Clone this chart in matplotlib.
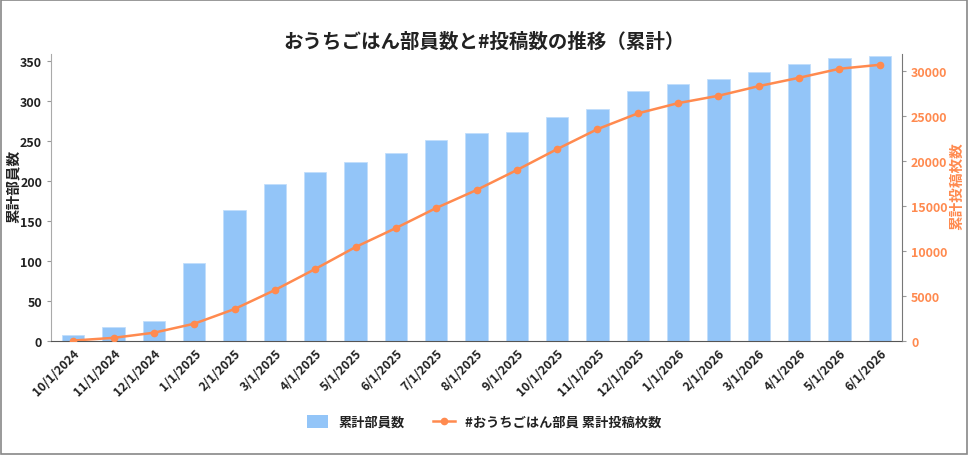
import matplotlib
matplotlib.use("Agg")
import matplotlib.pyplot as plt
from matplotlib.lines import Line2D
from matplotlib.patches import Patch

plt.rcParams['font.family'] = ['Noto Sans CJK JP', 'DejaVu Sans']

months = ["10/1/2024", "11/1/2024", "12/1/2024", "1/1/2025", "2/1/2025", "3/1/2025",
          "4/1/2025", "5/1/2025", "6/1/2025", "7/1/2025", "8/1/2025", "9/1/2025",
          "10/1/2025", "11/1/2025", "12/1/2025", "1/1/2026", "2/1/2026", "3/1/2026",
          "4/1/2026", "5/1/2026", "6/1/2026"]
members = [8, 18, 25, 97, 164, 196, 212, 224, 235, 252, 260, 262,
           280, 290, 313, 321, 328, 336, 346, 354, 357]
posts = [50, 350, 920, 1920, 3550, 5660, 8000, 10440, 12550, 14780, 16780, 19000,
         21330, 23550, 25300, 26440, 27260, 28330, 29260, 30260, 30700]

BLUE = "#93C5F8"
ORANGE = "#FF8A4F"
DARK = "#222222"

fig = plt.figure(figsize=(9.68, 4.56), dpi=100)
ax = fig.add_axes([51 / 968, 1 - 342 / 456, (902 - 51) / 968, (342 - 55) / 456])
x = list(range(len(months)))
ax.bar(x, members, width=0.55, color=BLUE, edgecolor="#C2DEFB", linewidth=0.6, zorder=2)
ax.set_xlim(-0.55, len(months) - 0.45)
ax.set_ylim(0, 359)
ax.set_yticks(range(0, 351, 50))
ax.set_xticks(x)
ax.set_xticklabels(months, rotation=45, ha="right", rotation_mode="anchor",
                   fontsize=8.8, fontweight="bold", color=DARK)
ax.tick_params(axis="y", labelsize=9, colors=DARK, length=3, color="#999999")
ax.tick_params(axis="x", length=0, pad=4)
for t in ax.get_yticklabels():
    t.set_fontweight("bold")
ax.spines["top"].set_visible(False)
ax.spines["left"].set_color("#AAAAAA")
ax.spines["bottom"].set_color("#555555")
ax.spines["right"].set_visible(False)

ax2 = ax.twinx()
ax2.plot(x, posts, color=ORANGE, linewidth=1.8, marker="o", markersize=4.5, zorder=3)
ax2.set_ylim(0, 31900)
ax2.set_yticks(range(0, 30001, 5000))
ax2.tick_params(axis="y", labelsize=9, colors=ORANGE, length=3, color="#999999")
for t in ax2.get_yticklabels():
    t.set_fontweight("bold")
ax2.spines["top"].set_visible(False)
ax2.spines["left"].set_visible(False)
ax2.spines["bottom"].set_visible(False)
ax2.spines["right"].set_color("#777777")

# axis titles placed in figure coords so they don't get clipped
fig.text(13 / 968, 1 - 186 / 456, "累計部員数", rotation=90, ha="center", va="center",
         fontsize=10.5, fontweight="bold", color=DARK)
fig.text(956 / 968, 1 - 186 / 456, "累計投稿枚数", rotation=90, ha="center", va="center",
         fontsize=10.5, fontweight="bold", color=ORANGE)

fig.suptitle("おうちごはん部員数と#投稿数の推移（累計）", fontsize=14, fontweight="bold",
             color=DARK, y=1 - 42 / 456, va="center")

handles = [Patch(facecolor=BLUE, edgecolor="none"),
           Line2D([], [], color=ORANGE, marker="o", markersize=4.5, linewidth=1.8)]
leg = fig.legend(handles, ["累計部員数", "#おうちごはん部員 累計投稿枚数"], loc="center",
                 bbox_to_anchor=(0.5, 1 - 423 / 456), ncol=2, frameon=False,
                 prop={"size": 9.5, "weight": "bold"}, handlelength=1.6, handleheight=1.2,
                 columnspacing=2.2)
for t in leg.get_texts():
    t.set_color(DARK)

fig.patches.append(plt.Rectangle((0.6 / 968, 0.6 / 456), 1 - 1.8 / 968, 1 - 1.8 / 456,
                                 transform=fig.transFigure, fill=False,
                                 edgecolor="#888888", linewidth=1.2))
fig.savefig("out.png", dpi=100)
